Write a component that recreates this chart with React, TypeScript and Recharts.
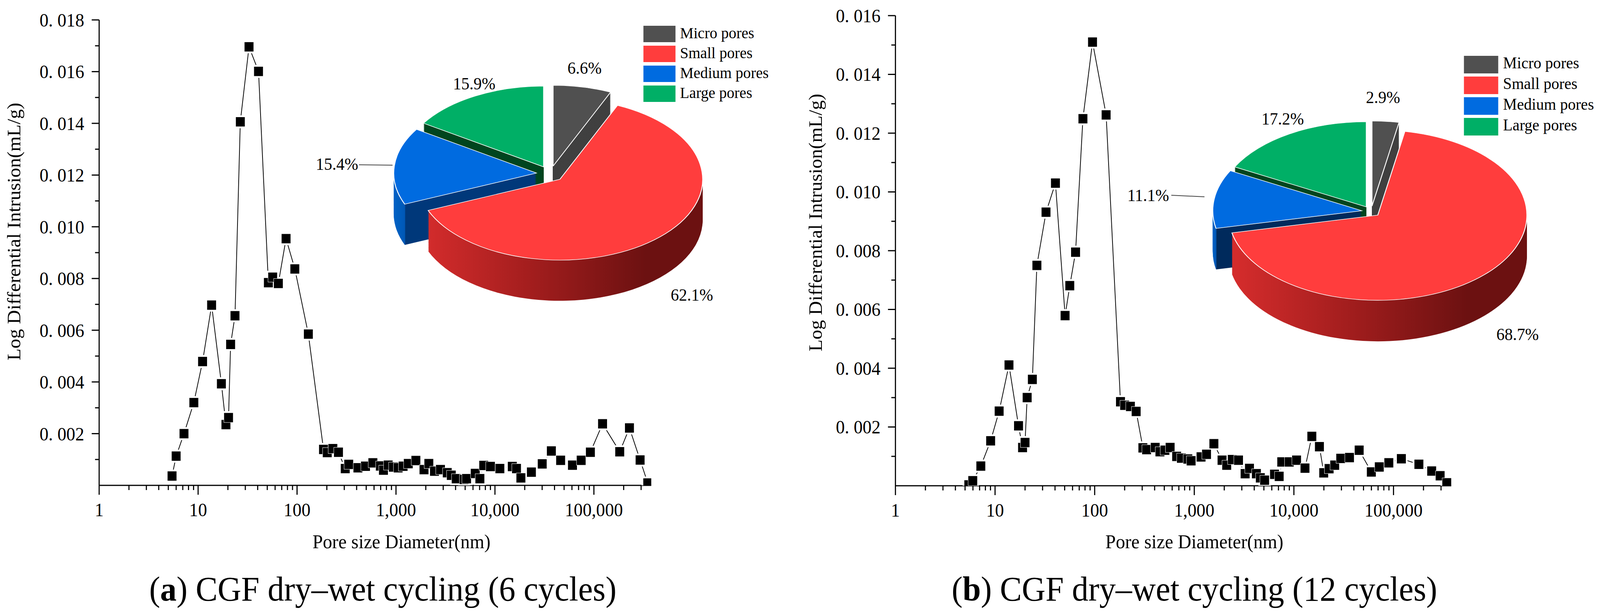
import React from 'react';
import { LineChart, Line, XAxis, YAxis, PieChart, Pie, Cell } from 'recharts';

const FONT = "'Liberation Serif','Times New Roman',Times,serif";
const PAGE_W = 4292;
const PAGE_H = 1575;

// ---------- data: (a) 6 cycles ----------
const poreDiameterA = [5.45, 6.0, 7.2, 9.05, 11.1, 13.7, 17.2, 19.1, 20.3, 21.3, 23.6, 26.7, 32.7, 40.8, 51.3, 56.7, 64.7, 77.4, 95, 130, 185, 202, 230, 262, 307, 333, 412, 492, 584, 695, 747, 834, 940, 1050, 1180, 1330, 1589, 1919, 2148, 2448, 2813, 3296, 3617, 4060, 4875, 5164, 6326, 7042, 7700, 9000, 11220, 14970, 16500, 18290, 23340, 30040, 37150, 46100, 60770, 74430, 92100, 122400, 182500, 228600, 293300, 350000];
const intrusionA = [0.00036, 0.00113, 0.0020, 0.0032, 0.00479, 0.00697, 0.00393, 0.00235, 0.00262, 0.00545, 0.00656, 0.01406, 0.01696, 0.01601, 0.00784, 0.00805, 0.00781, 0.00954, 0.00837, 0.00585, 0.00139, 0.00127, 0.00142, 0.00128, 0.00065, 0.00081, 0.00068, 0.00074, 0.00087, 0.00075, 0.00059, 0.00078, 0.00071, 0.00068, 0.00074, 0.00084, 0.00096, 0.00061, 0.00084, 0.00055, 0.00061, 0.00049, 0.00039, 0.00026, 0.00023, 0.00026, 0.00046, 0.00026, 0.00077, 0.00073, 0.00065, 0.00073, 0.00065, 0.00029, 0.00051, 0.00083, 0.00133, 0.00097, 0.00078, 0.00097, 0.00128, 0.00238, 0.00130, 0.00222, 0.00098, 0.00009];

// ---------- data: (b) 12 cycles ----------
const poreDiameterB = [5.45, 5.97, 7.2, 9.03, 11.0, 13.8, 17.2, 18.9, 20.0, 21.0, 23.7, 26.3, 32.5, 40.4, 50.5, 56.3, 64.3, 76.2, 95.2, 130.4, 181.6, 200, 228.5, 261, 305, 332, 405, 452, 507, 572, 665, 742, 862, 929, 1170, 1328, 1574, 1900, 2115, 2408, 2780, 3240, 3583, 4200, 4600, 5080, 6393, 7120, 7550, 8970, 10630, 12930, 15130, 18050, 19940, 22560, 25700, 29520, 36170, 45200, 59940, 72000, 89700, 119900, 179700, 241600, 294000, 342700];
const intrusionB = [0.00003, 0.00017, 0.00067, 0.00153, 0.00254, 0.00411, 0.00204, 0.00130, 0.00147, 0.00300, 0.00362, 0.00750, 0.00931, 0.01030, 0.00579, 0.00681, 0.00795, 0.01249, 0.01510, 0.01262, 0.00286, 0.00274, 0.00270, 0.00253, 0.00129, 0.00123, 0.00130, 0.00116, 0.00121, 0.00130, 0.00100, 0.00094, 0.00091, 0.00085, 0.00098, 0.00107, 0.00143, 0.00087, 0.00070, 0.00089, 0.00087, 0.00041, 0.00059, 0.00041, 0.00027, 0.00019, 0.00039, 0.00032, 0.00081, 0.00081, 0.00087, 0.00060, 0.00168, 0.00133, 0.00044, 0.00058, 0.00070, 0.00093, 0.00096, 0.00121, 0.00047, 0.00064, 0.00078, 0.00092, 0.00073, 0.00050, 0.00034, 0.00010];

// ---------- pie data ----------
const poreClasses = ['Micro pores', 'Small pores', 'Medium pores', 'Large pores'];
const poreShareA = [6.6, 62.1, 15.4, 15.9];
const poreShareB = [2.9, 68.7, 11.1, 17.2];
const poreShareLabelsA = ['6.6%', '62.1%', '15.4%', '15.9%'];
const poreShareLabelsB = ['2.9%', '68.7%', '11.1%', '17.2%'];
const topColors = ['#505050', '#ff3d3d', '#006be0', '#00af66'];

// ---------- axes ----------
const xDomainMax = 380000;
const xMajorTicks = [1, 10, 100, 1000, 10000, 100000];
const xTickLabels = ['1', '10', '100', '1,000', '10,000', '100,000'];
const xMinorFactors = [2, 3, 4, 5, 6, 7, 8, 9];
const yMajorTicksA = [0.002, 0.004, 0.006, 0.008, 0.010, 0.012, 0.014, 0.016, 0.018];
const yTickLabelsA = ['0. 002', '0. 004', '0. 006', '0. 008', '0. 010', '0. 012', '0. 014', '0. 016', '0. 018'];
const yMajorTicksB = [0.002, 0.004, 0.006, 0.008, 0.010, 0.012, 0.014, 0.016];
const yTickLabelsB = ['0. 002', '0. 004', '0. 006', '0. 008', '0. 010', '0. 012', '0. 014', '0. 016'];

const yAxisTitle = 'Log Differential Intrusion(mL/g)';
const xAxisTitle = 'Pore size Diameter(nm)';
const captionA = { tag: 'a', text: ' CGF dry\u2013wet cycling (6 cycles)' };
const captionB = { tag: 'b', text: ' CGF dry\u2013wet cycling (12 cycles)' };

const xMinorTicks = xMajorTicks.flatMap(m => xMinorFactors.map(f => m * f)).filter(v => v <= xDomainMax);
const xAllTicks = [...xMajorTicks, ...xMinorTicks].sort((a, b) => a - b);
const yAll = (majors: number[]) => [...majors, ...majors.map(m => +(m - 0.001).toFixed(4))].sort((a, b) => a - b);

const dataA = poreDiameterA.map((d, i) => ({ d, v: intrusionA[i] }));
const dataB = poreDiameterB.map((d, i) => ({ d, v: intrusionB[i] }));

const XTick = (p: any) => {
  const v = p.payload.value;
  const idx = xMajorTicks.findIndex(m => Math.abs(m - v) < 1e-6);
  const major = idx >= 0;
  return (
    <g>
      <line x1={p.x} x2={p.x} y1={p.y} y2={p.y + (major ? 24 : 12)} stroke="#000" strokeWidth={3} />
      {major && (
        <text x={p.x} y={p.y + 79} textAnchor="middle" fontSize={48} fontFamily={FONT} fill="#000">
          {xTickLabels[idx]}
        </text>
      )}
    </g>
  );
};

const makeYTick = (majors: number[], labels: string[]) => (p: any) => {
  const v = p.payload.value;
  const idx = majors.findIndex(m => Math.abs(m - v) < 1e-9);
  const major = idx >= 0;
  return (
    <g>
      <line x1={p.x - (major ? 20 : 11)} x2={p.x} y1={p.y} y2={p.y} stroke="#000" strokeWidth={3} />
      {major && (
        <text x={p.x - 40} y={p.y + 17} textAnchor="end" fontSize={48} fontFamily={FONT} fill="#000">
          {labels[idx]}
        </text>
      )}
    </g>
  );
};

const haloDot = (p: any) => (
  <rect key={`h${p.index}`} x={p.cx - 16.5} y={p.cy - 16.5} width={33} height={33} fill="#fff" />
);
const squareDot = (p: any) => (
  <rect key={`s${p.index}`} x={p.cx - 12.5} y={p.cy - 12.5} width={25} height={25} fill="#000" stroke="#fff" strokeWidth={1} />
);

type LineCfg = { left: number; top: number; yWidth: number; right: number; bottom: number; yMax: number; majors: number[]; labels: string[] };

function PoreLine({ data, cfg }: { data: { d: number; v: number }[]; cfg: LineCfg }) {
  return (
    <div style={{ position: 'absolute', left: cfg.left, top: 0 }}>
      <LineChart width={1800} height={PAGE_H} data={data} margin={{ top: cfg.top, right: cfg.right, bottom: cfg.bottom, left: 0 }}>
        <Line dataKey="v" type="linear" stroke="#000" strokeWidth={2} dot={false} activeDot={false} isAnimationActive={false} />
        <Line dataKey="v" type="linear" stroke="none" dot={haloDot} activeDot={false} isAnimationActive={false} />
        <Line dataKey="v" type="linear" stroke="none" dot={squareDot} activeDot={false} isAnimationActive={false} />
        <XAxis
          dataKey="d" type="number" scale="log" domain={[1, xDomainMax]} allowDataOverflow
          ticks={xAllTicks} interval={0} tickSize={0} tickMargin={0} tickLine={false}
          axisLine={{ stroke: '#000', strokeWidth: 3 }} tick={XTick} height={100}
        />
        <YAxis
          type="number" domain={[0, cfg.yMax]} allowDataOverflow
          ticks={yAll(cfg.majors)} interval={0} tickSize={0} tickMargin={0} tickLine={false}
          axisLine={{ stroke: '#000', strokeWidth: 3 }} tick={makeYTick(cfg.majors, cfg.labels)} width={cfg.yWidth}
        />
      </LineChart>
    </div>
  );
}

type PieCfg = { id: string; left: number; width: number; height: number; cx: number; cy: number; r: number; k: number; explode: number; depth: number; step: number; sideGray: string; sideGreen: string; blueDark: string };

function Pie3D({ shares, cfg }: { shares: number[]; cfg: PieCfg }) {
  const total = shares.reduce((a, b) => a + b, 0);
  const cum = shares.map((_, i) => shares.slice(0, i).reduce((a, b) => a + b, 0));
  const startA = cum.map(c => (c / total) * 2 * Math.PI);
  const midA = shares.map((s, i) => ((cum[i] + s / 2) / total) * 2 * Math.PI);
  const off = midA.map(m => ({ dx: cfg.explode * Math.sin(m), dy: -cfg.explode * Math.cos(m) }));
  const data = poreClasses.map((name, i) => ({ name, value: shares[i] }));
  const layers: number[] = [];
  for (let d = cfg.depth; d > 0; d -= cfg.step) layers.push(d);
  const order = [0, 3, 2, 1];
  const redId = `red-${cfg.id}`;
  const blueId = `blue-${cfg.id}`;
  const blueLeft = cfg.cx + off[2].dx - cfg.r;
  const blueApex = cfg.cx + off[2].dx;
  const blueRim = cfg.cx + off[2].dx + cfg.r * Math.sin(startA[2]);
  const t = Math.max(0.02, Math.min(0.9, (blueRim - blueLeft) / (blueApex - blueLeft)));
  const redCx = cfg.cx + off[1].dx;
  const sideFill = [cfg.sideGray, `url(#${redId})`, `url(#${blueId})`, cfg.sideGreen];

  return (
    <div style={{ position: 'absolute', left: cfg.left, top: 0, width: cfg.width, height: cfg.height, transform: `scaleY(${cfg.k})`, transformOrigin: '0 0', pointerEvents: 'none' }}>
      <PieChart width={cfg.width} height={cfg.height} margin={{ top: 0, right: 0, bottom: 0, left: 0 }}>
        <defs>
          <linearGradient id={redId} gradientUnits="userSpaceOnUse" x1={redCx - cfg.r * 0.95} y1={0} x2={redCx + cfg.r * 0.6} y2={0}>
            <stop offset="0" stopColor="#d42c2c" />
            <stop offset="0.5" stopColor="#a11d1d" />
            <stop offset="1" stopColor="#6c1111" />
          </linearGradient>
          <linearGradient id={blueId} gradientUnits="userSpaceOnUse" x1={blueLeft} y1={0} x2={blueApex} y2={0}>
            <stop offset="0" stopColor="#0062c6" />
            <stop offset={t} stopColor="#0058b6" />
            <stop offset={t + 0.005} stopColor={cfg.blueDark} />
            <stop offset="1" stopColor={cfg.blueDark} />
          </linearGradient>
        </defs>
        {order.flatMap(i =>
          layers.map(d => (
            <Pie
              key={`side-${i}-${d}`} data={data} dataKey="value" nameKey="name"
              cx={cfg.cx + off[i].dx} cy={cfg.cy + off[i].dy + d} outerRadius={cfg.r} innerRadius={0}
              startAngle={90} endAngle={-270} stroke="none" isAnimationActive={false}
            >
              {data.map((_, j) => (
                <Cell key={j} fill={j === i ? sideFill[i] : 'none'} stroke="none" />
              ))}
            </Pie>
          ))
        )}
        {order.map(i => (
          <Pie
            key={`top-${i}`} data={data} dataKey="value" nameKey="name"
            cx={cfg.cx + off[i].dx} cy={cfg.cy + off[i].dy} outerRadius={cfg.r} innerRadius={0}
            startAngle={90} endAngle={-270} isAnimationActive={false}
          >
            {data.map((_, j) => (
              <Cell key={j} fill={j === i ? topColors[i] : 'none'} stroke={j === i ? '#ffffff' : 'none'} strokeWidth={j === i ? 2.5 : 0} />
            ))}
          </Pie>
        ))}
      </PieChart>
    </div>
  );
}

const pieCfgA: PieCfg = { id: 'A', left: 876, width: 1200, height: 1500, cx: 600, cy: 824, r: 383, k: 0.54, explode: 37, depth: 193, step: 5, sideGray: '#404040', sideGreen: '#00451f', blueDark: '#00387a' };
const pieCfgB: PieCfg = { id: 'B', left: 3078, width: 1200, height: 1650, cx: 600, cy: 993.6, r: 400, k: 0.545, explode: 25, depth: 193, step: 5, sideGray: '#404040', sideGreen: '#00451f', blueDark: '#002a5c' };

type Placed = { x: number; y: number };
const labelPosA: Placed[] = [{ x: 1568, y: 189 }, { x: 1856, y: 770 }, { x: 904, y: 435 }, { x: 1272, y: 229 }];
const labelPosB: Placed[] = [{ x: 3710, y: 264 }, { x: 4071, y: 871 }, { x: 3080, y: 515 }, { x: 3441, y: 319 }];

function Legend({ x, y, pitch, w, h, textX, size }: { x: number; y: number; pitch: number; w: number; h: number; textX: number; size: number }) {
  return (
    <g>
      {poreClasses.map((name, i) => (
        <g key={name}>
          <rect x={x} y={y + i * pitch} width={w} height={h} fill={topColors[i]} />
          <text x={textX} y={y + i * pitch + 32} fontSize={size} fontFamily={FONT} fill="#000">{name}</text>
        </g>
      ))}
    </g>
  );
}

export default function App() {
  // the sandbox viewport can be narrower than the requested page; fit the figure horizontally
  const vw = typeof window !== 'undefined' ? window.innerWidth : PAGE_W;
  const sx = Math.min(1, vw / PAGE_W);
  return (
    <div style={{ position: 'absolute', left: 0, top: 0, width: PAGE_W, height: PAGE_H, background: '#fff', overflow: 'hidden', fontFamily: FONT, transform: `scaleX(${sx})`, transformOrigin: '0 0' }}>
      <PoreLine data={dataA} cfg={{ left: 0, top: 51, yWidth: 266, right: 53, bottom: 232, yMax: 0.018, majors: yMajorTicksA, labels: yTickLabelsA }} />
      <PoreLine data={dataB} cfg={{ left: 2130, top: 40, yWidth: 272, right: 37, bottom: 231, yMax: 0.016, majors: yMajorTicksB, labels: yTickLabelsB }} />
      <Pie3D shares={poreShareA} cfg={pieCfgA} />
      <Pie3D shares={poreShareB} cfg={pieCfgB} />
      <svg width={PAGE_W} height={PAGE_H} style={{ position: 'absolute', left: 0, top: 0, pointerEvents: 'none' }} fontFamily={FONT}>
        <text transform="translate(55,593) rotate(-90)" textAnchor="middle" fontSize={50} fill="#000">{yAxisTitle}</text>
        <text transform="translate(2205,570) rotate(-90)" textAnchor="middle" fontSize={50} fill="#000">{yAxisTitle}</text>
        <text x={1077} y={1404} textAnchor="middle" fontSize={50} fill="#000">{xAxisTitle}</text>
        <text x={3204} y={1404} textAnchor="middle" fontSize={50} fill="#000">{xAxisTitle}</text>

        {poreShareLabelsA.map((s, i) => (
          <text key={`la${i}`} x={labelPosA[i].x} y={labelPosA[i].y} textAnchor="middle" fontSize={44} fill="#000">{s}</text>
        ))}
        {poreShareLabelsB.map((s, i) => (
          <text key={`lb${i}`} x={labelPosB[i].x} y={labelPosB[i].y} textAnchor="middle" fontSize={44} fill="#000">{s}</text>
        ))}
        <line x1={963} y1={422} x2={1053} y2={423} stroke="#444" strokeWidth={2} />
        <line x1={3142} y1={500} x2={3231} y2={504} stroke="#444" strokeWidth={2} />

        <Legend x={1726} y={66} pitch={51} w={86} h={42} textX={1824} size={41} />
        <Legend x={3927} y={143} pitch={53} w={92} h={45} textX={4032} size={42} />

        <text x={1027} y={1538} textAnchor="middle" fontSize={88} fill="#000">
          (<tspan fontWeight="bold">{captionA.tag}</tspan>){captionA.text}
        </text>
        <text x={3204} y={1538} textAnchor="middle" fontSize={88} fill="#000">
          (<tspan fontWeight="bold">{captionB.tag}</tspan>){captionB.text}
        </text>
      </svg>
    </div>
  );
}
